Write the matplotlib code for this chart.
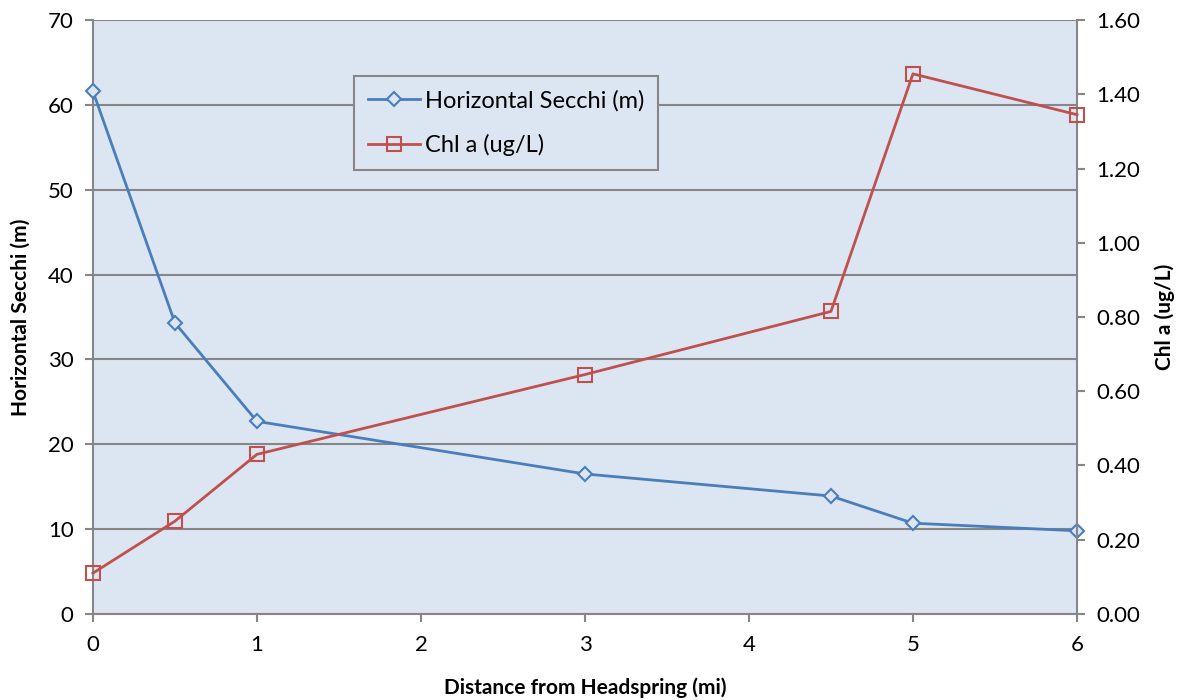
import matplotlib
matplotlib.use("Agg")
import matplotlib.pyplot as plt

plt.rcParams['font.family'] = ['Lato', 'DejaVu Sans']

# distance along the run and the two measured series
distance_mi = [0, 0.5, 1, 3, 4.5, 5, 6]
secchi_m = [61.6, 34.3, 22.7, 16.5, 13.9, 10.7, 9.8]
chl_a = [0.11, 0.25, 0.43, 0.645, 0.815, 1.455, 1.345]

blue = '#4a7ebb'
red = '#c0504d'
axis_grey = '#868686'
bg = '#dce6f2'

fig = plt.figure(figsize=(11.87, 7), dpi=100)
ax = fig.add_axes([0.0783, 0.1229, 0.8290, 0.8485])
ax.set_facecolor(bg)
ax2 = ax.twinx()

l1, = ax.plot(distance_mi, secchi_m, color=blue, lw=2, marker='D', ms=7,
              mfc=bg, mec=blue, mew=1.5, label='Horizontal Secchi (m)',
              clip_on=False, zorder=5)
l2, = ax2.plot(distance_mi, chl_a, color=red, lw=2, marker='s', ms=10,
               mfc='none', mec=red, mew=1.5, label='Chl a (ug/L)',
               clip_on=False, zorder=5)

ax.set_xlim(0, 6)
ax.set_ylim(0, 70)
ax2.set_ylim(0, 1.6)
ax.set_yticks(range(0, 71, 10))
ax2.set_yticks([i * 0.2 for i in range(9)])
ax2.set_yticklabels([f'{i * 0.2:.2f}' for i in range(9)])
ax.set_xticks(range(0, 7))

ax.yaxis.grid(True, color=axis_grey, lw=1.5)
ax.set_axisbelow(True)

for a in (ax, ax2):
    for s in a.spines.values():
        s.set_visible(False)
    a.tick_params(labelsize=16, color=axis_grey, length=6, width=1.5)
for a, side in ((ax, 'left'), (ax, 'bottom'), (ax2, 'right')):
    a.spines[side].set_visible(True)
    a.spines[side].set_color(axis_grey)
    a.spines[side].set_linewidth(1.5)
ax.tick_params(axis='x', pad=9)
ax.tick_params(axis='y', pad=8)
ax2.tick_params(axis='y', pad=8)

ax.set_xlabel('Distance from Headspring (mi)', fontsize=15, fontweight='bold', labelpad=16)
ax.set_ylabel('Horizontal Secchi (m)', fontsize=15, fontweight='bold', labelpad=12)
ax2.set_ylabel('Chl a (ug/L)', fontsize=15, fontweight='bold', labelpad=10)

leg = ax.legend(handles=[l1, l2], loc='upper left', bbox_to_anchor=(0.265, 0.906),
                fontsize=17, frameon=True, fancybox=False, borderpad=0.6,
                labelspacing=0.95, handlelength=2.2, handletextpad=0.2,
                borderaxespad=0)
leg.get_frame().set_facecolor(bg)
leg.get_frame().set_edgecolor(axis_grey)
leg.get_frame().set_linewidth(1.5)
leg.get_frame().set_alpha(1)

fig.savefig('out.png', dpi=100)
